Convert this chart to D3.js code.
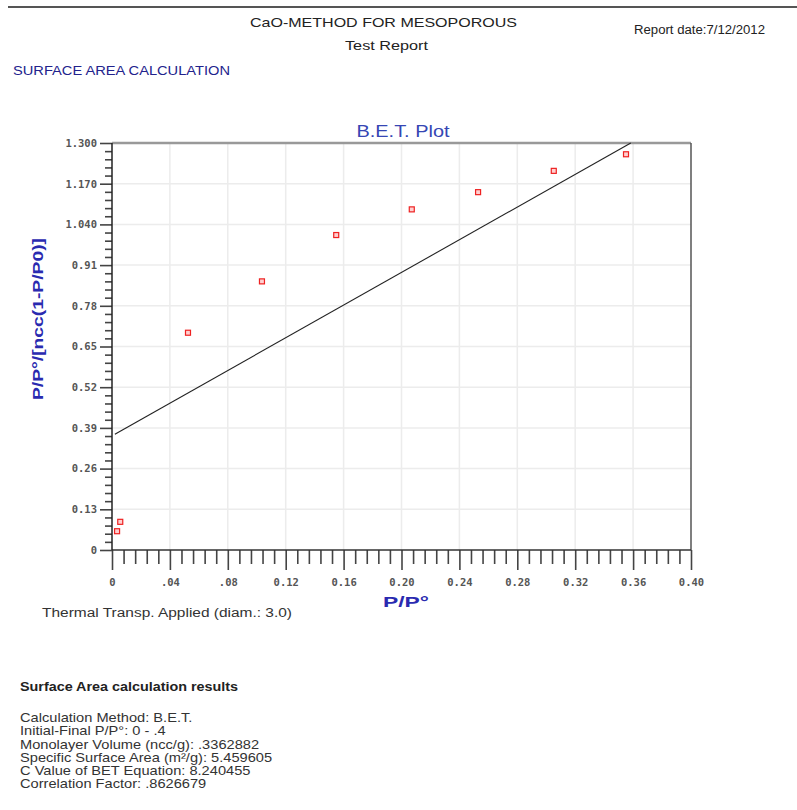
<!DOCTYPE html>
<html>
<head>
<meta charset="utf-8">
<script src="https://cdn.jsdelivr.net/npm/d3@7"></script>
<style>
  html, body { margin: 0; padding: 0; background: #fff; }
  svg { display: block; }
</style>
</head>
<body>
<svg id="chart" width="797" height="810"></svg>
<script>
// BET adsorption points: relative pressure P/P° vs. BET transform
const relPressure = [0.0035, 0.0057, 0.0525, 0.1036, 0.1549, 0.2071, 0.2529, 0.3052, 0.3551];
const betValue    = [0.060, 0.090, 0.694, 0.858, 1.006, 1.088, 1.143, 1.211, 1.264];

// Fitted BET line end points
const fitX = [0.002, 0.3584];
const fitY = [0.370, 1.300];

// Axis ticks and labels
const xTicks = [0, 0.04, 0.08, 0.12, 0.16, 0.20, 0.24, 0.28, 0.32, 0.36, 0.40];
const xTickLabels = ["0", ".04", ".08", "0.12", "0.16", "0.20", "0.24", "0.28", "0.32", "0.36", "0.40"];
const yTicks = [0, 0.13, 0.26, 0.39, 0.52, 0.65, 0.78, 0.91, 1.04, 1.17, 1.30];
const yTickLabels = ["0", "0.13", "0.26", "0.39", "0.52", "0.65", "0.78", "0.91", "1.040", "1.170", "1.300"];

// Report text
const resultLines = [
  "Calculation Method: B.E.T.",
  "Initial-Final P/P°: 0 - .4",
  "Monolayer Volume (ncc/g): .3362882",
  "Specific Surface Area (m²/g): 5.459605",
  "C Value of BET Equation: 8.240455",
  "Correlation Factor: .8626679"
];

const svg = d3.select("#chart");
const sans = "'Liberation Sans', Arial, sans-serif";
const mono = "'DejaVu Sans Mono', monospace";

// Header rule and titles
svg.append("line").attr("x1", 8).attr("x2", 797).attr("y1", 7).attr("y2", 7)
  .attr("stroke", "#555").attr("stroke-width", 2);

svg.append("text").attr("x", 250).attr("y", 27)
  .attr("font-family", sans).attr("font-size", 13).attr("fill", "#222")
  .attr("textLength", 267).attr("lengthAdjust", "spacingAndGlyphs")
  .text("CaO-METHOD FOR MESOPOROUS");
svg.append("text").attr("x", 345).attr("y", 50)
  .attr("font-family", sans).attr("font-size", 13).attr("fill", "#222")
  .attr("textLength", 83).attr("lengthAdjust", "spacingAndGlyphs")
  .text("Test Report");
svg.append("text").attr("x", 634).attr("y", 34)
  .attr("font-family", sans).attr("font-size", 12).attr("fill", "#222")
  .attr("textLength", 131).attr("lengthAdjust", "spacingAndGlyphs")
  .text("Report date:7/12/2012");
svg.append("text").attr("x", 13).attr("y", 75)
  .attr("font-family", sans).attr("font-size", 13).attr("fill", "#22228c")
  .attr("textLength", 217).attr("lengthAdjust", "spacingAndGlyphs")
  .text("SURFACE AREA CALCULATION");

// Plot area
const plotLeft = 112, plotRight = 691, plotTop = 143, plotBottom = 550;
const x = d3.scaleLinear().domain([0, 0.4]).range([plotLeft, plotRight]);
const y = d3.scaleLinear().domain([0, 1.3]).range([plotBottom, plotTop]);

// Grid
const grid = svg.append("g").attr("stroke", "#ececec").attr("stroke-width", 1.5);
xTicks.slice(1, -1).forEach(v => {
  grid.append("line").attr("x1", x(v)).attr("x2", x(v)).attr("y1", plotTop).attr("y2", plotBottom);
});
yTicks.slice(1, -1).forEach(v => {
  grid.append("line").attr("x1", plotLeft).attr("x2", plotRight).attr("y1", y(v)).attr("y2", y(v));
});

// Frame: heavy top edge, dark right edge
svg.append("line").attr("x1", plotLeft).attr("x2", plotRight).attr("y1", plotTop).attr("y2", plotTop)
  .attr("stroke", "#999").attr("stroke-width", 2.5);
svg.append("line").attr("x1", plotRight).attr("x2", plotRight).attr("y1", plotTop).attr("y2", plotBottom)
  .attr("stroke", "#555").attr("stroke-width", 1.5);

// X axis with minor (every 0.008) and major ticks
const gx = svg.append("g").attr("transform", `translate(0,${plotBottom})`)
  .call(d3.axisBottom(x).tickValues(d3.range(0, 51).map(i => i * 0.008).filter((d, i) => i % 5 !== 0))
    .tickSize(14).tickFormat(""));
gx.selectAll(".tick line").attr("stroke", "#444").attr("stroke-width", 1.6);
const gxMajor = svg.append("g").attr("transform", `translate(0,${plotBottom})`)
  .call(d3.axisBottom(x).tickValues(xTicks).tickSize(20).tickPadding(7)
    .tickFormat((d, i) => xTickLabels[i]));
gxMajor.selectAll(".tick line").attr("stroke", "#444").attr("stroke-width", 1.6);
gxMajor.selectAll("text").attr("font-family", mono).attr("font-size", 10.5)
  .attr("font-weight", "bold").attr("fill", "#555").attr("dy", "0.9em");
[gx, gxMajor].forEach(g => g.select(".domain").remove());
svg.append("line").attr("x1", plotLeft).attr("x2", plotRight).attr("y1", plotBottom).attr("y2", plotBottom)
  .attr("stroke", "#333").attr("stroke-width", 1.5);

// Y axis with minor (every 0.026) and major ticks
const gyMinor = svg.append("g").attr("transform", `translate(${plotLeft},0)`)
  .call(d3.axisLeft(y).tickValues(d3.range(0, 51).map(i => i * 0.026).filter((d, i) => i % 5 !== 0))
    .tickSize(7).tickFormat(""));
gyMinor.selectAll(".tick line").attr("stroke", "#444").attr("stroke-width", 1.6);
const gy = svg.append("g").attr("transform", `translate(${plotLeft},0)`)
  .call(d3.axisLeft(y).tickValues(yTicks).tickSize(12).tickPadding(3)
    .tickFormat((d, i) => yTickLabels[i]));
gy.selectAll(".tick line").attr("stroke", "#444").attr("stroke-width", 1.6);
gy.selectAll("text").attr("font-family", mono).attr("font-size", 10.5)
  .attr("font-weight", "bold").attr("fill", "#555");
[gyMinor, gy].forEach(g => g.select(".domain").remove());
svg.append("line").attr("x1", plotLeft).attr("x2", plotLeft).attr("y1", plotTop).attr("y2", plotBottom)
  .attr("stroke", "#222").attr("stroke-width", 1.5);

// Fitted line
const line = d3.line().x(d => x(d[0])).y(d => y(d[1]));
svg.append("path").datum(fitX.map((v, i) => [v, fitY[i]]))
  .attr("d", line).attr("fill", "none").attr("stroke", "#222").attr("stroke-width", 1.1);

// Data markers
svg.append("g").selectAll("rect").data(relPressure).join("rect")
  .attr("x", d => x(d) - 2.5)
  .attr("y", (d, i) => y(betValue[i]) - 2.5)
  .attr("width", 5).attr("height", 5)
  .attr("fill", "#ffd0d0").attr("stroke", "#ee2222").attr("stroke-width", 1.2);

// Plot title and axis titles
svg.append("text").attr("x", 403).attr("y", 137).attr("text-anchor", "middle")
  .attr("font-family", sans).attr("font-size", 17).attr("fill", "#3646b4")
  .attr("textLength", 93).attr("lengthAdjust", "spacingAndGlyphs")
  .text("B.E.T. Plot");
svg.append("text").attr("x", 406).attr("y", 607).attr("text-anchor", "middle")
  .attr("font-family", sans).attr("font-size", 15).attr("font-weight", "bold").attr("fill", "#2a2ab0")
  .attr("textLength", 46).attr("lengthAdjust", "spacingAndGlyphs")
  .text("P/P°");
svg.append("text").attr("transform", "translate(43,319) rotate(-90)").attr("text-anchor", "middle")
  .attr("font-family", sans).attr("font-size", 15).attr("font-weight", "bold").attr("fill", "#2a2ab0")
  .attr("textLength", 162).attr("lengthAdjust", "spacingAndGlyphs")
  .text("P/P°/[ncc(1-P/P0)]");

svg.append("text").attr("x", 42).attr("y", 617)
  .attr("font-family", sans).attr("font-size", 12).attr("fill", "#333")
  .attr("textLength", 250).attr("lengthAdjust", "spacingAndGlyphs")
  .text("Thermal Transp. Applied (diam.: 3.0)");

// Results block (report text is drawn slightly widened)
svg.append("text").attr("x", 20).attr("y", 691)
  .attr("font-family", sans).attr("font-size", 12).attr("font-weight", "bold").attr("fill", "#222")
  .attr("textLength", 218).attr("lengthAdjust", "spacingAndGlyphs")
  .text("Surface Area calculation results");
svg.append("g").attr("transform", "translate(20,0) scale(1.22,1)")
  .selectAll("text").data(resultLines).join("text")
  .attr("x", 0).attr("y", (d, i) => 722 + i * 13.3)
  .attr("font-family", sans).attr("font-size", 12).attr("fill", "#333")
  .text(d => d);
</script>
</body>
</html>
